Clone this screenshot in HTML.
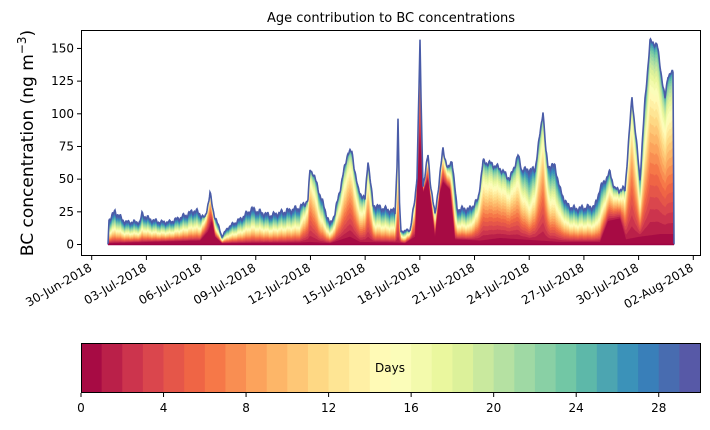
<!DOCTYPE html><html><head><meta charset="utf-8"><style>
body{margin:0;background:#fff;}
svg text{font-family:"DejaVu Sans","Liberation Sans",sans-serif;fill:#000}
</style></head><body>
<svg id="s" width="710" height="425" xmlns="http://www.w3.org/2000/svg"></svg>
<script>
const S=document.getElementById('s');
const A=['#9e0142','#d53e4f','#f46d43','#fdae61','#fee08b','#ffffbf','#e6f598','#abdda4','#66c2a5','#3288bd','#5e4fa2'].map(h=>[1,3,5].map(i=>parseInt(h.substr(i,2),16)));
function cm(t){t=Math.max(0,Math.min(1,t))*10;let i=Math.min(9,Math.floor(t)),f=t-i;return 'rgb('+[0,1,2].map(j=>Math.round(A[i][j]+(A[i+1][j]-A[i][j])*f)).join(',')+')';}
function interp(k,x){if(x<=k[0][0])return k[0][1];for(let i=1;i<k.length;i++){if(x<=k[i][0]){let a=k[i-1],b=k[i];return a[1]+(b[1]-a[1])*(x-a[0])/(b[0]-a[0]);}}return k[k.length-1][1];}
const T=[[108,0],[109,19],[115,25],[125,17],[140,17],[142,23],[150,19],[160,17],[170,17],[185,22],[195,26],[205,20],[210,39],[213,26],[222,6],[228,13],[240,19],[252,27],[258,25],[270,22],[285,25],[300,28],[308,34],[310,57],[313,55],[320,38],[330,15],[335,24],[348,71],[352,70],[358,42],[365,34],[368,65],[373,30],[385,27],[395,25],[397,60],[398,97],[399.5,30],[401,10],[410,11],[415,34],[417,53],[419,120],[420,156],[421,110],[423,45],[428,68],[430,50],[435,22],[443,73],[448,57],[452,65],[457,27],[470,27],[478,34],[483,63],[490,62],[500,58],[510,50],[518,68],[522,57],[535,57],[541,90],[543,103],[546,70],[548,60],[555,60],[560,42],[567,30],[575,27],[595,29],[600,43],[610,55],[615,42],[625,42],[632,113],[640,50],[645,110],[650,155],[657,153],[665,111],[668,130],[673,131],[674,0]];
const G=[[108,0.85],[200,0.9],[210,3],[216,0.9],[300,0.9],[310,2.5],[320,1.1],[330,0.9],[350,2.2],[360,1.3],[368,2],[375,0.9],[395,0.9],[398,1.5],[405,0.9],[420,3],[430,1.5],[443,2],[455,0.9],[470,0.9],[480,1.8],[515,1.8],[530,0.9],[543,2.2],[550,1.1],[600,0.9],[632,2.5],[640,1.2],[650,2],[673,2]];
const B=[[108,1],[150,2],[200,3],[208,10],[212,18],[215,6],[222,1],[300,1.5],[310,2],[330,1],[350,6],[360,2],[398,1.5],[405,1],[415,6],[417,40],[420,85],[423,40],[428,50],[432,25],[435,6],[440,40],[443,48],[450,42],[455,4],[480,3],[500,5],[560,2],[600,2],[608,18],[620,20],[626,4],[640,6],[660,8],[673,8]];
const y0=244.5,sc=1.307;let xs=[];for(let x=108;x<=674;x+=0.5)xs.push(x);
function Tv(x){let t=interp(T,x);if(x>108.5&&x<673.5)t+=Math.min(1.5,0.06*t)*(Math.sin(x*0.9)+0.7*Math.sin(x*2.3+1));return Math.max(0,t);}
let h='';
function cum(k,x){const t=Tv(x),b=Math.min(interp(B,x),t),g=interp(G,x);if(k==0)return 0;const a=(k-1)/29;return b+(t-b)*(1-Math.pow(1-a,g));}
for(let k=30;k>=1;k--){let p='M108,'+y0;xs.forEach(x=>{p+=' L'+x+','+(y0-cum(k,x)*sc).toFixed(1)});p+=' L674,'+y0+'Z';h+='<path d="'+p+'" fill="'+cm((k-0.5)/30)+'"/>';}
let p='';xs.forEach((x,i)=>{p+=(i?' L':'M')+x+','+(y0-Tv(x)*sc).toFixed(1)});
h+='<path d="'+p+'" fill="none" stroke="#4a5ca8" stroke-width="1.6"/>';
h+='<line x1="108" y1="'+y0+'" x2="674" y2="'+y0+'" stroke="#9e0142" stroke-width="1.5"/>';
h+='<rect x="81.5" y="30.5" width="619" height="225" fill="none" stroke="#000" stroke-width="1"/>';
[0,25,50,75,100,125,150].forEach(v=>{let y=y0-v*sc;h+='<line x1="77" x2="81" y1="'+y+'" y2="'+y+'" stroke="#000"/><text x="74" y="'+(y+4)+'" font-size="12" text-anchor="end">'+v+'</text>';});
const L=['30-Jun-2018','03-Jul-2018','06-Jul-2018','09-Jul-2018','12-Jul-2018','15-Jul-2018','18-Jul-2018','21-Jul-2018','24-Jul-2018','27-Jul-2018','30-Jul-2018','02-Aug-2018'];
L.forEach((l,i)=>{let x=91.7+i*54.69;h+='<line x1="'+x+'" x2="'+x+'" y1="256" y2="260" stroke="#000"/><text transform="translate('+(x+1)+',270) rotate(-30)" font-size="12" text-anchor="end">'+l+'</text>';});
h+='<text x="391" y="22" font-size="13" text-anchor="middle">Age contribution to BC concentrations</text>';
h+='<text transform="translate(33,143) rotate(-90)" font-size="17" text-anchor="middle">BC concentration (ng m<tspan dy="-7" font-size="12">−3</tspan><tspan dy="7">)</tspan></text>';
const cx=81,cw=619/30;for(let i=0;i<30;i++)h+='<rect x="'+(cx+i*cw).toFixed(2)+'" y="343" width="'+(cw+0.4).toFixed(2)+'" height="49" fill="'+cm((i+0.5)/30)+'"/>';
h+='<rect x="81.5" y="343.5" width="619" height="49" fill="none" stroke="#000"/>';
h+='<text x="390" y="372" font-size="12" text-anchor="middle">Days</text>';
for(let v=0;v<=28;v+=4){let x=cx+v*cw;h+='<line x1="'+x+'" x2="'+x+'" y1="393" y2="397" stroke="#000"/><text x="'+x+'" y="412" font-size="12" text-anchor="middle">'+v+'</text>';}
S.innerHTML=h;
</script></body></html>
